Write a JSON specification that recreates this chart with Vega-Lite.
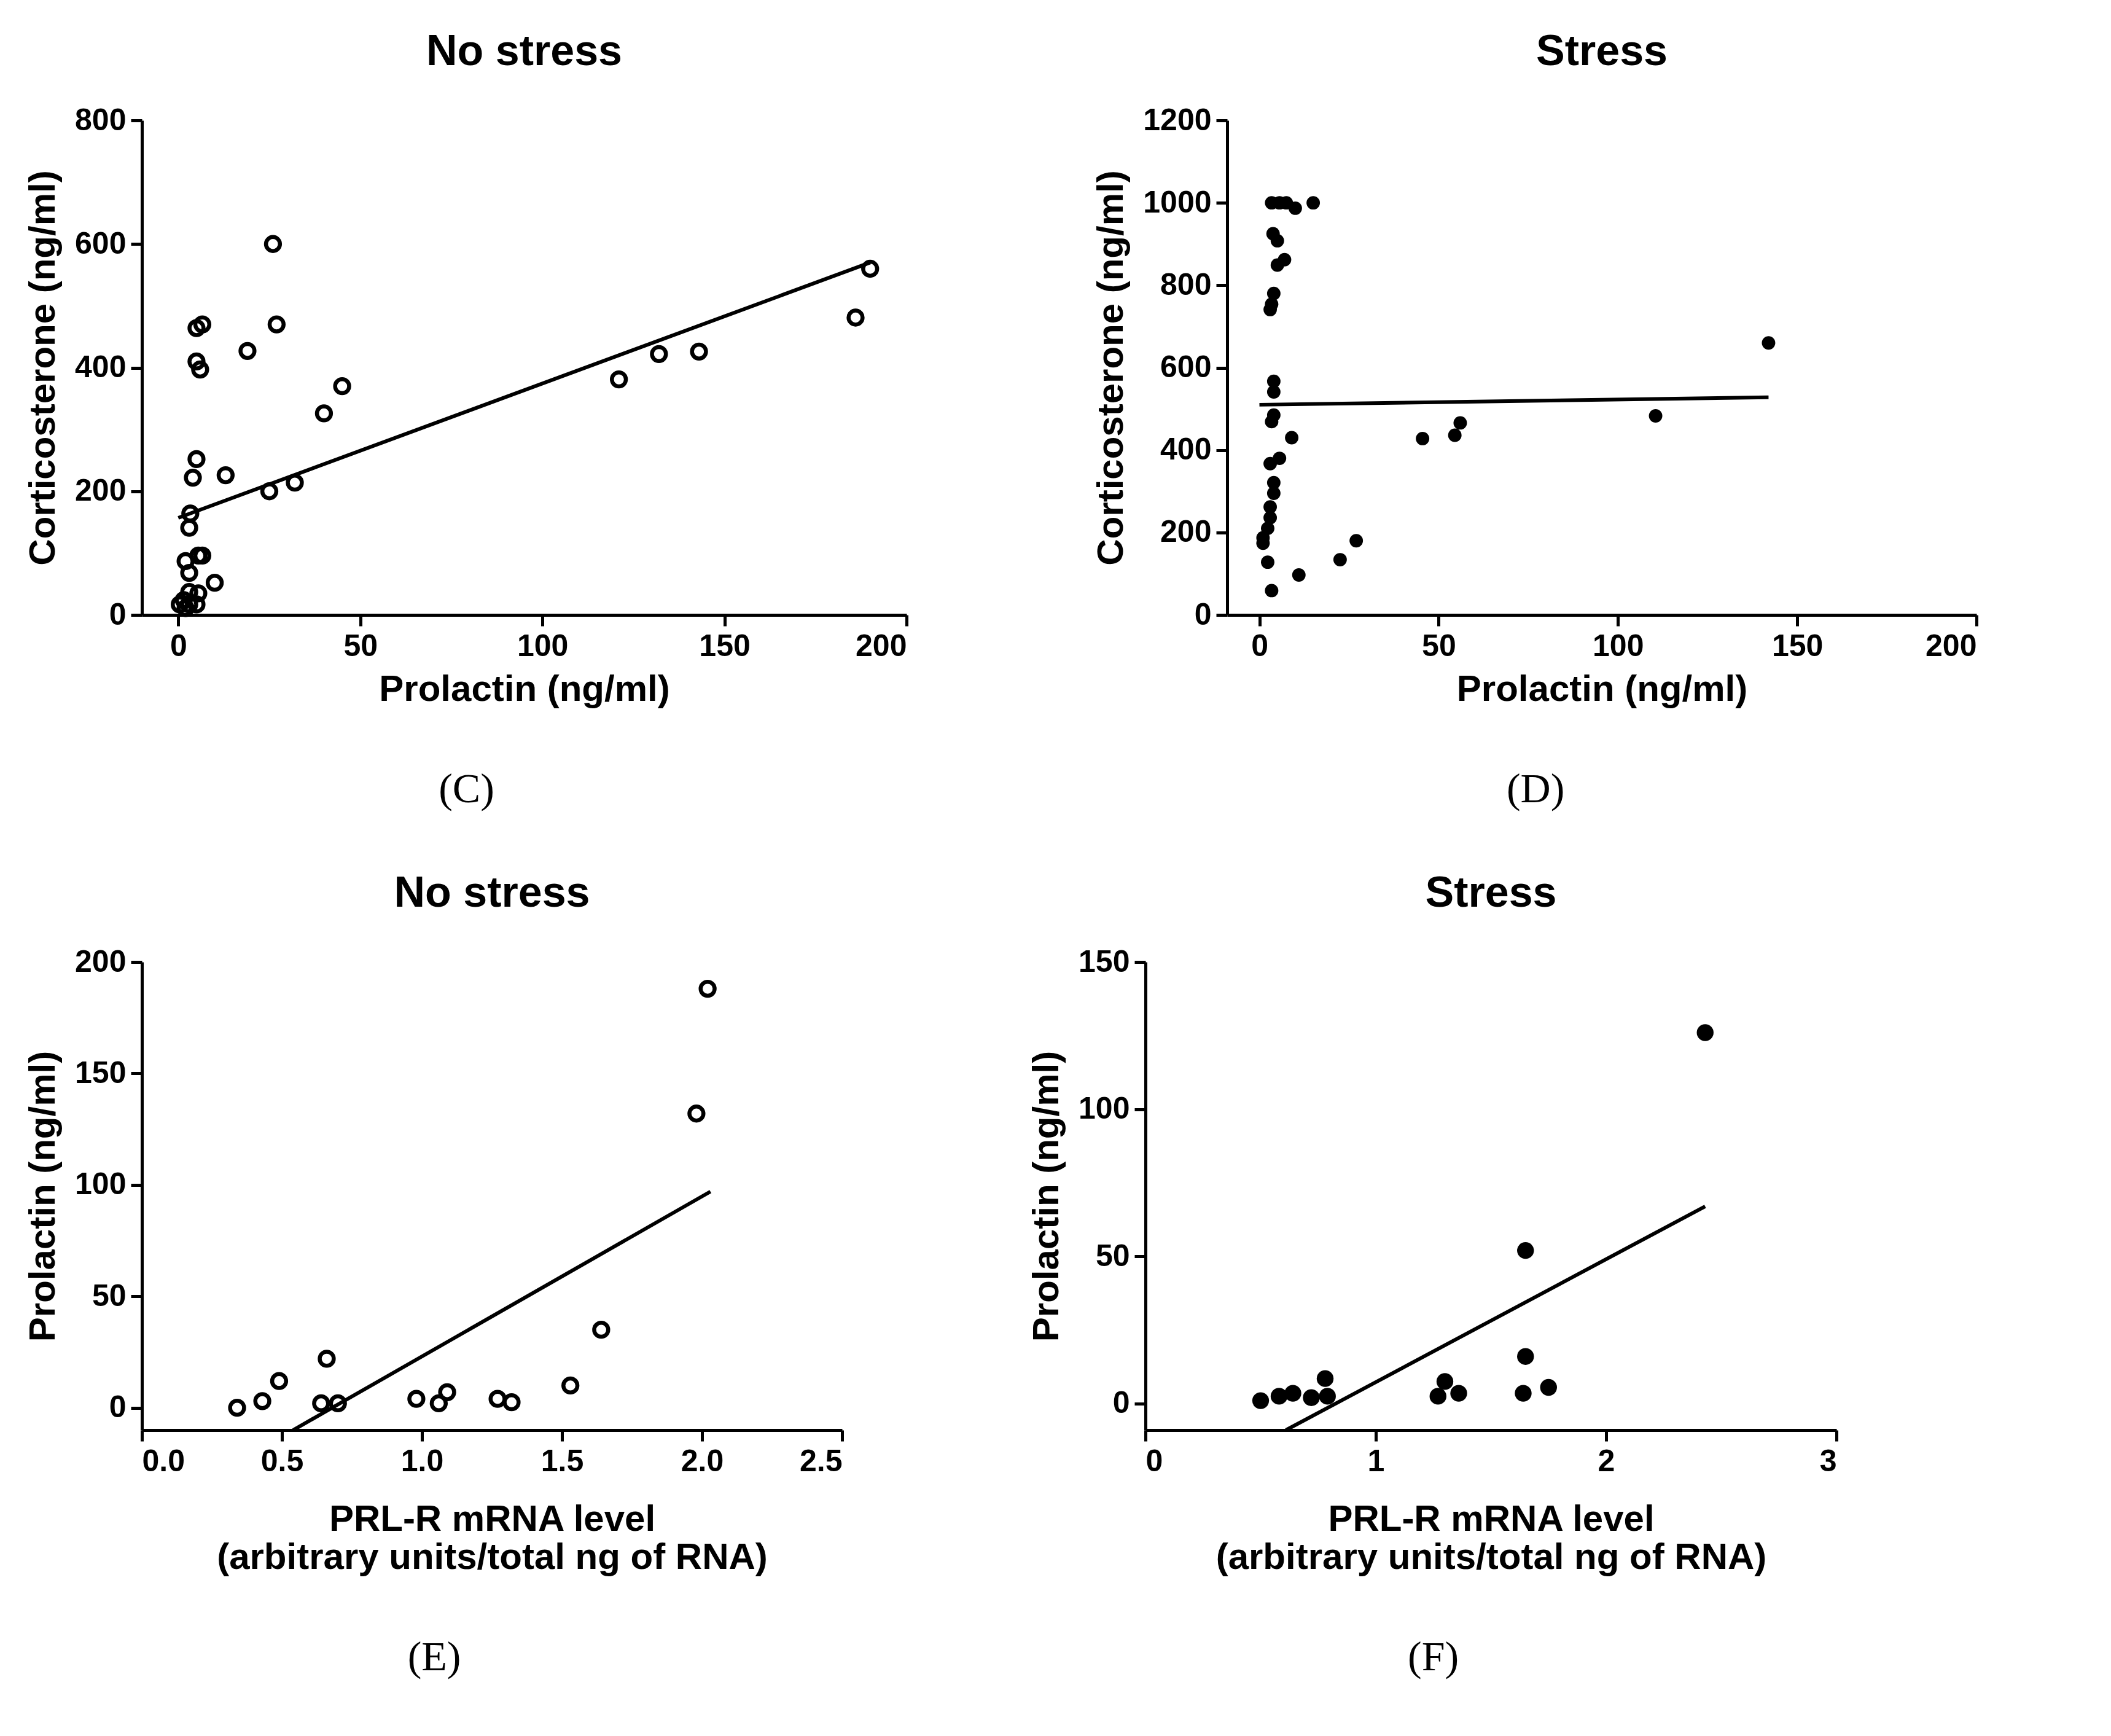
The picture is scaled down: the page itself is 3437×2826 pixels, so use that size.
{
"$schema":"https://vega.github.io/schema/vega-lite/v6.json",
"background":"white",
"padding":{"left":40,"top":50,"right":20,"bottom":10},
"config":{"view":{"stroke":null},"font":"Liberation Sans",
"axis":{"grid":false,"domainColor":"black","domainWidth":5,"tickColor":"black","tickWidth":5,"tickSize":18,"labelFont":"Liberation Sans","labelFontSize":50,"labelFontWeight":"bold","labelColor":"black","titleFont":"Liberation Sans","titleFontSize":60,"titleFontWeight":"bold","titleColor":"black","labelPadding":8},
"axisY":{"titlePadding":20},"axisX":{"titlePadding":16},
"title":{"font":"Liberation Sans","fontSize":70,"fontWeight":"bold","color":"black","offset":50}},
"datasets":{
"C":[{"x":26,"y":600},{"x":6.6,"y":470},{"x":5,"y":464},{"x":5,"y":410},{"x":6,"y":397},{"x":19,"y":427},{"x":27,"y":470},{"x":45,"y":370},{"x":40,"y":326},{"x":5,"y":252},{"x":4,"y":222},{"x":13,"y":226},{"x":3.3,"y":164},{"x":3,"y":141},{"x":25,"y":200},{"x":32,"y":214},{"x":121,"y":381},{"x":132,"y":422},{"x":143,"y":426},{"x":186,"y":481},{"x":190,"y":560},{"x":2,"y":87},{"x":5.5,"y":96},{"x":6.6,"y":96},{"x":3,"y":68},{"x":10,"y":52},{"x":3,"y":37},{"x":5.5,"y":35},{"x":1.5,"y":24},{"x":5,"y":17},{"x":0.4,"y":17},{"x":2,"y":11},{"x":3,"y":17}],
"Cl":[{"x":0,"y":157},{"x":190,"y":570}],
"D":[{"x":3.4,"y":1000},{"x":5.6,"y":1000},{"x":7.5,"y":1000},{"x":10,"y":987},{"x":15,"y":1000},{"x":3.8,"y":925},{"x":5,"y":908},{"x":7,"y":862},{"x":5,"y":849},{"x":4,"y":780},{"x":3.4,"y":754},{"x":3,"y":741},{"x":4,"y":567},{"x":4,"y":541},{"x":4,"y":485},{"x":3.4,"y":469},{"x":9,"y":430},{"x":5.6,"y":380},{"x":3,"y":367},{"x":4,"y":321},{"x":4,"y":295},{"x":3,"y":262},{"x":3,"y":236},{"x":2.3,"y":210},{"x":1,"y":187},{"x":1,"y":174},{"x":2.3,"y":128},{"x":3.4,"y":59},{"x":11,"y":97},{"x":22.5,"y":134},{"x":27,"y":180},{"x":45.5,"y":428},{"x":54.5,"y":436},{"x":56,"y":466},{"x":110.5,"y":483},{"x":142,"y":660}],
"Dl":[{"x":0,"y":510},{"x":142,"y":528}],
"E":[{"x":0.34,"y":0},{"x":0.43,"y":3},{"x":0.49,"y":12},{"x":0.64,"y":2},{"x":0.66,"y":22},{"x":0.7,"y":2},{"x":0.98,"y":4},{"x":1.06,"y":2},{"x":1.09,"y":7},{"x":1.27,"y":4},{"x":1.32,"y":2.5},{"x":1.53,"y":10},{"x":1.64,"y":35},{"x":1.98,"y":132},{"x":2.02,"y":188}],
"El":[{"x":0.54,"y":-10},{"x":2.03,"y":97}],
"F":[{"x":0.5,"y":1},{"x":0.58,"y":2.5},{"x":0.64,"y":3.5},{"x":0.72,"y":2},{"x":0.78,"y":8.5},{"x":0.79,"y":2.5},{"x":1.27,"y":2.5},{"x":1.3,"y":7.5},{"x":1.36,"y":3.5},{"x":1.64,"y":3.5},{"x":1.65,"y":52},{"x":1.65,"y":16},{"x":1.75,"y":5.5},{"x":2.43,"y":126}],
"Fl":[{"x":0.61,"y":-9},{"x":2.43,"y":67}]
},
"spacing":100,
"vconcat":[
{"spacing":300,"hconcat":[
{"title":{"text":"(C)","orient":"bottom","anchor":"middle","font":"Liberation Serif","fontSize":68,"fontWeight":"normal","offset":100},
"vconcat":[{"width":1245,"height":805,"title":"No stress",
"layer":[
{"data":{"name":"C"},"mark":{"type":"point","filled":false,"stroke":"black","strokeWidth":6.5,"size":520,"opacity":1},
"encoding":{"x":{"field":"x","type":"quantitative","scale":{"domain":[-10,200],"nice":false,"zero":false},"axis":{"values":[0,50,100,150,200],"title":"Prolactin (ng/ml)"}},
"y":{"field":"y","type":"quantitative","scale":{"domain":[0,800],"nice":false},"axis":{"values":[0,200,400,600,800],"title":"Corticosterone (ng/ml)"}}}},
{"data":{"name":"Cl"},"mark":{"type":"line","color":"black","strokeWidth":6},"encoding":{"x":{"field":"x","type":"quantitative"},"y":{"field":"y","type":"quantitative"}}}
]}]},
{"title":{"text":"(D)","orient":"bottom","anchor":"middle","font":"Liberation Serif","fontSize":68,"fontWeight":"normal","offset":100},
"vconcat":[{"width":1220,"height":805,"title":"Stress",
"layer":[
{"data":{"name":"D"},"mark":{"type":"circle","color":"black","size":480,"opacity":1},
"encoding":{"x":{"field":"x","type":"quantitative","scale":{"domain":[-9,200],"nice":false,"zero":false},"axis":{"values":[0,50,100,150,200],"title":"Prolactin (ng/ml)"}},
"y":{"field":"y","type":"quantitative","scale":{"domain":[0,1200],"nice":false},"axis":{"values":[0,200,400,600,800,1000,1200],"format":"d","title":"Corticosterone (ng/ml)"}}}},
{"data":{"name":"Dl"},"mark":{"type":"line","color":"black","strokeWidth":6},"encoding":{"x":{"field":"x","type":"quantitative"},"y":{"field":"y","type":"quantitative"}}}
]}]}
]},
{"spacing":300,"hconcat":[
{"title":{"text":"(E)","orient":"bottom","anchor":"middle","font":"Liberation Serif","fontSize":68,"fontWeight":"normal","offset":100},
"vconcat":[{"width":1140,"height":762,"title":"No stress",
"layer":[
{"data":{"name":"E"},"mark":{"type":"point","filled":false,"stroke":"black","strokeWidth":6.5,"size":520,"opacity":1},
"encoding":{"x":{"field":"x","type":"quantitative","scale":{"domain":[0,2.5],"nice":false},"axis":{"values":[0,0.5,1,1.5,2,2.5],"format":".1f","title":["PRL-R mRNA level","(arbitrary units/total ng of RNA)"],"titlePadding":40}},
"y":{"field":"y","type":"quantitative","scale":{"domain":[-10,200],"nice":false,"zero":false},"axis":{"values":[0,50,100,150,200],"title":"Prolactin (ng/ml)"}}}},
{"data":{"name":"El"},"mark":{"type":"line","color":"black","strokeWidth":6,"clip":true},"encoding":{"x":{"field":"x","type":"quantitative"},"y":{"field":"y","type":"quantitative"}}}
]}]},
{"title":{"text":"(F)","orient":"bottom","anchor":"middle","font":"Liberation Serif","fontSize":68,"fontWeight":"normal","offset":100},
"vconcat":[{"width":1125,"height":762,"title":"Stress",
"layer":[
{"data":{"name":"F"},"mark":{"type":"circle","color":"black","size":750,"opacity":1},
"encoding":{"x":{"field":"x","type":"quantitative","scale":{"domain":[0,3],"nice":false},"axis":{"values":[0,1,2,3],"format":"d","title":["PRL-R mRNA level","(arbitrary units/total ng of RNA)"],"titlePadding":40}},
"y":{"field":"y","type":"quantitative","scale":{"domain":[-9,150],"nice":false,"zero":false},"axis":{"values":[0,50,100,150],"title":"Prolactin (ng/ml)"}}}},
{"data":{"name":"Fl"},"mark":{"type":"line","color":"black","strokeWidth":6,"clip":true},"encoding":{"x":{"field":"x","type":"quantitative"},"y":{"field":"y","type":"quantitative"}}}
]}]}
]}
]}
